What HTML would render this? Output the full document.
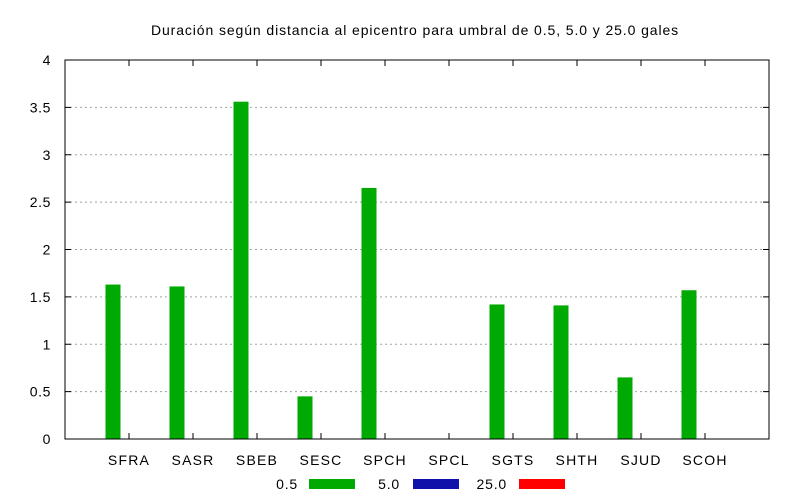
<!DOCTYPE html>
<html><head><meta charset="utf-8"><style>
body{margin:0;background:#fff;}
svg{display:block;font-family:"Liberation Sans",sans-serif;}
</style></head><body>
<svg id="chart" width="800" height="500">
<text x="415" y="35" font-size="14" text-anchor="middle" letter-spacing="0.9">Duración según distancia al epicentro para umbral de 0.5, 5.0 y 25.0 gales</text>
<g id="grid"></g><g id="bars"></g><g id="axes"></g><g id="legend"></g>
</svg>
<script>
const categories=["SFRA","SASR","SBEB","SESC","SPCH","SPCL","SGTS","SHTH","SJUD","SCOH"];
const s05=[1.63,1.61,3.56,0.45,2.65,0,1.42,1.41,0.65,1.57];
const s50=[0,0,0,0,0,0,0,0,0,0];
const s250=[0,0,0,0,0,0,0,0,0,0];
const yTicks=[0,0.5,1,1.5,2,2.5,3,3.5,4];
const yTickLabels=["0","0.5","1","1.5","2","2.5","3","3.5","4"];
const seriesNames=["0.5","5.0","25.0"];
const L=65,R=769,T=60,B=439;
const NS="http://www.w3.org/2000/svg";
const xc=i=>L+64*(i+1);
const y=v=>B-(v/4)*(B-T);
function mk(tag,attrs,parent,text){const e=document.createElementNS(NS,tag);for(const k in attrs)e.setAttribute(k,attrs[k]);if(text!==undefined)e.textContent=text;document.getElementById(parent).appendChild(e);return e;}
yTicks.forEach((v,i)=>{
 if(v>0&&v<4){const g=mk("line",{x1:L,x2:R,y1:y(v),y2:y(v),stroke:"#a0a0a0","stroke-dasharray":"2,3","stroke-width":1},"grid");
 
 }
 const t=mk("line",{x1:L,x2:L+6,y1:y(v),y2:y(v),stroke:"#000"},"axes");
 
 
 const t2=mk("line",{x1:R,x2:R-6,y1:y(v),y2:y(v),stroke:"#000"},"axes");
 
 
 const l=mk("text",{x:L-14,y:y(v)+5,"font-size":14,"text-anchor":"end","letter-spacing":0.6},"axes",yTickLabels[i]);
 
 
});
const colors=["#00aa00","#1010aa","#ff0000"];
const series=[s05,s50,s250];
categories.forEach((c,i)=>{
 series.forEach((s,j)=>{
  if(s[i]<=0)return;
  const r=mk("rect",{x:xc(i)-23.5+16*j,width:15,y:y(s[i]),height:B-y(s[i]),fill:colors[j]},"bars");
  
  
 });
 const t=mk("line",{x1:xc(i),x2:xc(i),y1:B,y2:B-6,stroke:"#000"},"axes");
 
 
 const t2=mk("line",{x1:xc(i),x2:xc(i),y1:T,y2:T+6,stroke:"#000"},"axes");
 
 
 const l=mk("text",{x:xc(i),y:465,"font-size":14,"text-anchor":"middle","letter-spacing":1.2},"axes",c);
 
 
});
const fr=mk("rect",{x:L,y:T,width:R-L,height:B-T,fill:"none",stroke:"#000"},"axes");


const legX=[298,400,507],swX=[309,413,519];
seriesNames.forEach((n,j)=>{
 const t=mk("text",{x:legX[j],y:489,"font-size":14,"text-anchor":"end","letter-spacing":0.8},"legend",n);
 
 
 const r=mk("rect",{x:swX[j],y:479,width:46,height:10,fill:colors[j]},"legend");
 
 
});
</script>
</body></html>
